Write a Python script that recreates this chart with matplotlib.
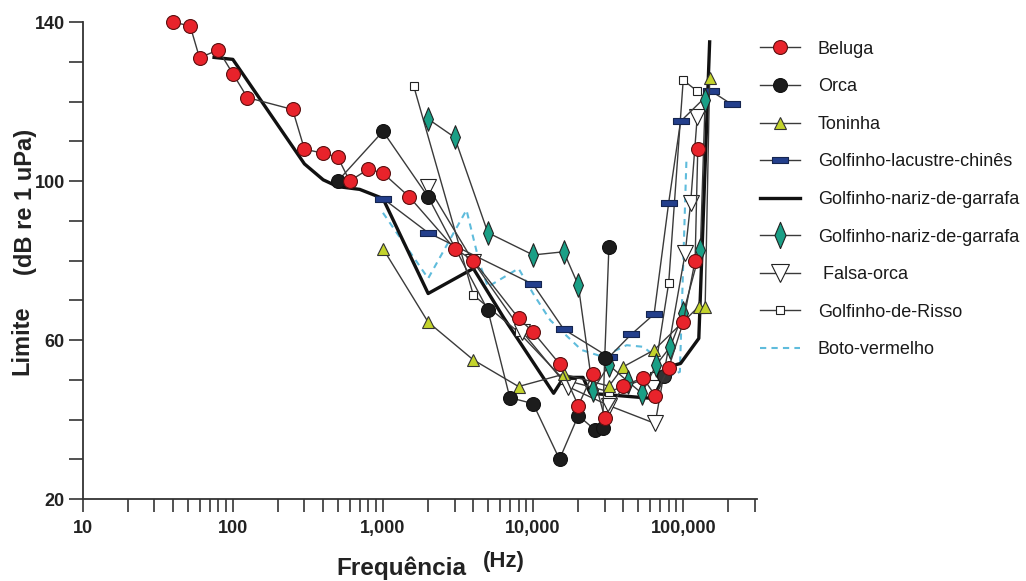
import matplotlib
matplotlib.use("Agg")
import matplotlib.pyplot as plt
import matplotlib.ticker as mticker
from matplotlib.lines import Line2D
import numpy as np

plt.rcParams['font.family'] = ['Liberation Sans', 'DejaVu Sans']

# ---------------- data (frequency Hz, threshold dB re 1 uPa) ----------------
beluga_f = [40, 52, 60, 80, 100, 125, 250, 300, 400, 500, 600, 800, 1000, 1500,
            3000, 4000, 8000, 10000, 15000, 20000, 25000, 30000, 40000, 54000,
            65000, 80000, 100000, 120000, 125000]
beluga_db = [140, 139, 131, 133, 127, 121, 118, 108, 107, 106, 100, 103, 102, 96,
             83, 80, 65.5, 62, 54, 43.5, 51.5, 40.5, 48.5, 50.5,
             46, 53, 64.5, 80, 108]

orca_f = [500, 1000, 2000, 5000, 7000, 10000, 15000, 20000, 26000, 29000, 30000, 32000]
orca_db = [100, 112.5, 96, 67.5, 45.5, 44, 30, 41, 37.3, 37.8, 55.5, 83.5]
orca2_f = [74000]
orca2_db = [51]

toninha_f = [1000, 2000, 4000, 8000, 16000, 32000, 40000, 64000, 127000, 140000, 150000]
toninha_db = [83, 64.5, 55, 48.3, 51.4, 48.4, 53.3, 57.5, 68.4, 68.4, 125.8]

lacustre_f = [1000, 2000, 10000, 16000, 32000, 45000, 64000, 80000, 96000, 154000, 210000]
lacustre_db = [95.6, 87, 74, 62.7, 55.7, 61.4, 66.5, 94.5, 115, 122.6, 119.3]

nariz_f = [75, 100, 300, 400, 500, 700, 1000, 2000, 4000, 6400, 13700, 16000,
           21500, 24000, 63000, 80000, 96000, 127000, 150000]
nariz_db = [131.1, 130.6, 104.3, 100.3, 98.6, 97.9, 95.6, 71.7, 78, 65.5, 46.6, 50.6,
            50.6, 46.6, 45.3, 53.3, 54.1, 60.4, 135]

diamante_f = [2000, 3000, 5000, 10000, 16000, 20000, 25000, 32000, 43000, 53000,
              66000, 82000, 100000, 130000, 140000]
diamante_db = [115.6, 111, 87, 81.4, 82.2, 73.8, 47.4, 53.7, 49.5, 46.6,
               53.7, 58.3, 66.7, 82.6, 120.4]

falsa_f = [2000, 4000, 8500, 17000, 32000, 65000, 103000, 112000, 124000]
falsa_db = [98.6, 79.7, 62, 48.3, 43.5, 39, 81.8, 94.4, 116.2]

risso_f = [1600, 4000, 8000, 16000, 32000, 64000, 80000, 100000, 124000]
risso_db = [124, 71.3, 62, 50, 47, 51, 74.3, 125.4, 122.6]

boto_f = [1000, 2000, 3600, 4400, 5000, 8000, 10000, 13000, 21000, 29000, 42000,
          54000, 70000, 80000, 95000, 105000]
boto_db = [92, 75.5, 92.7, 79.3, 73.4, 78, 71.7, 65, 57.5, 55.8, 58.7,
           58.3, 55, 50.8, 52, 105]

x_ticks = [10, 100, 1000, 10000, 100000]
y_ticks = [20, 60, 100, 140]

labels = ["Beluga", "Orca", "Toninha", "Golfinho-lacustre-chinês",
          "Golfinho-nariz-de-garrafa", "Golfinho-nariz-de-garrafa",
          " Falsa-orca", "Golfinho-de-Risso", "Boto-vermelho"]

# ---------------- styles ----------------
LINE = '#3a3a3a'
RED = '#e8232b'
BLK = '#1c1c1c'
YEL = '#c3d32c'
NAVY = '#233f8c'
TEAL = '#1a9f86'
CYAN = '#5fbcdc'

rect_marker = [(-1, -0.42), (1, -0.42), (1, 0.42), (-1, 0.42), (-1, -0.42)]
diam_marker = [(0, -1), (0.42, 0), (0, 1), (-0.42, 0), (0, -1)]

fig = plt.figure(figsize=(10.26, 5.81), dpi=100)
ax = fig.add_axes([0.0806, 0.1411, 0.6572, 0.821])

kw = dict(clip_on=False)
ax.plot(boto_f, boto_db, color=CYAN, lw=1.5, ls=(0, (3, 2.5)), zorder=2, **kw)
ax.plot(nariz_f, nariz_db, color='#111111', lw=2.4, zorder=3, **kw)
ax.plot(risso_f, risso_db, color=LINE, lw=1.0, marker='s', ms=5.5,
        mfc='white', mec='#222222', mew=0.8, zorder=4, **kw)
ax.plot(falsa_f, falsa_db, color=LINE, lw=1.0, marker='v', ms=12,
        mfc='white', mec='#222222', mew=0.8, zorder=4, **kw)
ax.plot(lacustre_f, lacustre_db, color=LINE, lw=1.0, marker=rect_marker, ms=11,
        mfc=NAVY, mec='#15254f', mew=0.8, zorder=5, **kw)
ax.plot(toninha_f, toninha_db, color=LINE, lw=1.0, marker='^', ms=9,
        mfc=YEL, mec='#333333', mew=0.8, zorder=5, **kw)
ax.plot(diamante_f, diamante_db, color=LINE, lw=1.0, marker=diam_marker, ms=17,
        mfc=TEAL, mec='#222222', mew=0.8, zorder=6, **kw)
ax.plot(orca_f, orca_db, color=LINE, lw=1.0, marker='o', ms=10,
        mfc=BLK, mec='#111111', mew=0.8, zorder=6, **kw)
ax.plot(orca2_f, orca2_db, color=LINE, lw=1.0, marker='o', ms=10,
        mfc='#333333', mec='#111111', mew=0.8, zorder=6, **kw)
ax.plot(beluga_f, beluga_db, color=LINE, lw=1.0, marker='o', ms=10,
        mfc=RED, mec='#5a1010', mew=0.8, zorder=7, **kw)

# ---------------- axes ----------------
ax.set_xscale('log')
ax.set_xlim(10, 3.1e5)
ax.set_ylim(20, 140)
for s in ['top', 'right']:
    ax.spines[s].set_visible(False)
for s in ['left', 'bottom']:
    ax.spines[s].set_color('#333333')
    ax.spines[s].set_linewidth(1.3)

ax.xaxis.set_major_locator(mticker.FixedLocator(x_ticks))
ax.xaxis.set_minor_locator(mticker.LogLocator(base=10, subs=np.arange(2, 10), numticks=20))
ax.xaxis.set_major_formatter(mticker.FuncFormatter(lambda v, p: '{:,}'.format(int(round(v)))))
ax.xaxis.set_minor_formatter(mticker.NullFormatter())
ax.yaxis.set_major_locator(mticker.FixedLocator(y_ticks))
ax.yaxis.set_minor_locator(mticker.MultipleLocator(10))

ax.tick_params(axis='x', which='both', direction='out', length=9, width=1.2,
               color='#333333', pad=6)
ax.tick_params(axis='y', which='both', direction='out', length=10, width=1.2,
               color='#333333', pad=3)
for lab in ax.get_xticklabels() + ax.get_yticklabels():
    lab.set_fontsize(13)
    lab.set_fontweight('bold')
    lab.set_color('#222222')

# axis titles
fig.text(0.0214, 0.4148, "Limite", rotation=90, ha='center', va='center',
         fontsize=17, fontweight='bold', color='#222222')
fig.text(0.0250, 0.652, "(dB re 1 uPa)", rotation=90, ha='center', va='center',
         fontsize=17, fontweight='bold', color='#222222')
fig.text(0.3908, 0.0103, "Frequência", ha='center', va='baseline',
         fontsize=17.5, fontweight='bold', color='#222222')
fig.text(0.4912, 0.0246, "(Hz)", ha='center', va='baseline',
         fontsize=16, fontweight='bold', color='#222222')

# ---------------- legend ----------------
handles = [
    Line2D([], [], color=LINE, lw=1.0, marker='o', ms=10, mfc=RED, mec='#5a1010', mew=0.8),
    Line2D([], [], color=LINE, lw=1.0, marker='o', ms=10, mfc=BLK, mec='#111111', mew=0.8),
    Line2D([], [], color=LINE, lw=1.0, marker='^', ms=9, mfc=YEL, mec='#333333', mew=0.8),
    Line2D([], [], color=LINE, lw=1.0, marker=rect_marker, ms=11, mfc=NAVY, mec='#15254f', mew=0.8),
    Line2D([], [], color='#111111', lw=2.4),
    Line2D([], [], color=LINE, lw=1.0, marker=diam_marker, ms=19, mfc=TEAL, mec='#222222', mew=0.8),
    Line2D([], [], color=LINE, lw=1.0, marker='v', ms=13, mfc='white', mec='#222222', mew=0.8),
    Line2D([], [], color=LINE, lw=1.0, marker='s', ms=5.5, mfc='white', mec='#222222', mew=0.8),
    Line2D([], [], color=CYAN, lw=1.5, ls=(0, (3, 2.5))),
]
leg = ax.legend(handles, labels, loc='upper left',
                bbox_to_anchor=(0.7407, 0.930), bbox_transform=fig.transFigure,
                frameon=False, fontsize=13, handlelength=2.2, handletextpad=1.0,
                labelspacing=1.14, borderpad=0, borderaxespad=0)
for t in leg.get_texts():
    t.set_color('#1a1a1a')

fig.savefig('out.png', dpi=100)
